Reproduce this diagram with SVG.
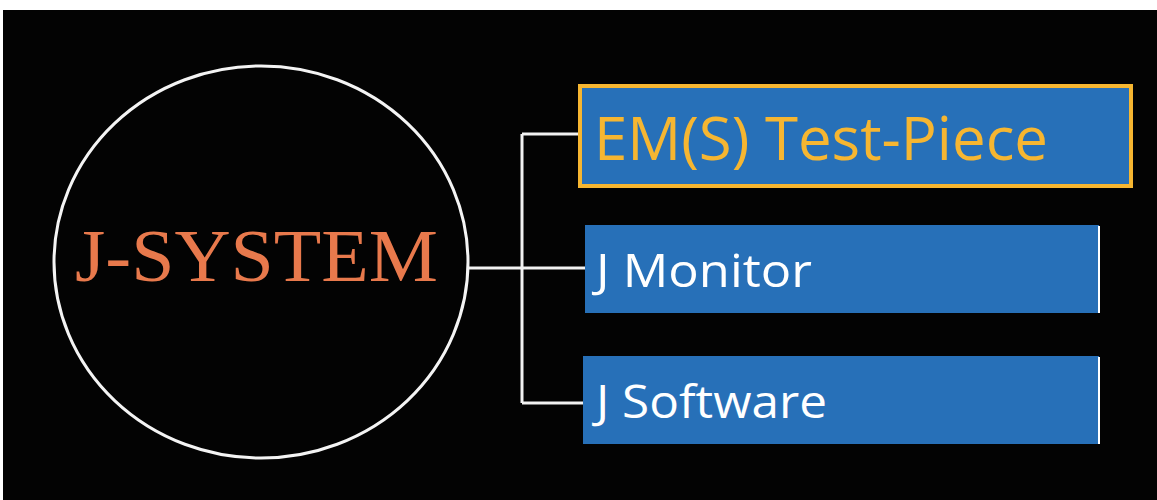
<svg xmlns="http://www.w3.org/2000/svg" width="1157" height="500" viewBox="0 0 1157 500">
  <style>
    .conn { stroke: #f2f2f2; stroke-width: 3; fill: none; }
    .box { fill: #2770b8; }
    .lbl { font-family: "Open Sans", "Liberation Sans", sans-serif; fill: #ffffff; }
  </style>
  <rect x="0" y="0" width="1157" height="500" fill="#ffffff"/>
  <rect x="3" y="10" width="1154" height="490" fill="#030303"/>
  <g id="connectors">
    <path class="conn" d="M468 268 H586"/>
    <path class="conn" d="M522 134 V403"/>
    <path class="conn" d="M522 134 H580"/>
    <path class="conn" d="M522 403 H585"/>
  </g>
  <g id="node-jsystem">
    <ellipse cx="261" cy="262" rx="207" ry="196" fill="#030303" stroke="#f4f4f4" stroke-width="3"/>
    <text x="75" y="281" font-family="Liberation Serif, serif" font-size="73" fill="#e8794c" textLength="363" lengthAdjust="spacingAndGlyphs">J-SYSTEM</text>
  </g>
  <g id="node-ems">
    <rect class="box" x="580" y="86" width="551" height="100" stroke="#f6b631" stroke-width="4"/>
    <text class="lbl" x="594" y="160" font-size="60" style="fill:#f6b631" textLength="454" lengthAdjust="spacingAndGlyphs">EM(S) Test-Piece</text>
  </g>
  <g id="node-monitor">
    <rect class="box" x="585" y="225" width="514" height="88"/>
    <line x1="1099" y1="226" x2="1099" y2="313" stroke="#ffffff" stroke-width="2"/>
    <text class="lbl" x="596" y="287" font-size="46" textLength="216" lengthAdjust="spacingAndGlyphs">J Monitor</text>
  </g>
  <g id="node-software">
    <rect class="box" x="583" y="356" width="516" height="88"/>
    <line x1="1099" y1="357" x2="1099" y2="444" stroke="#ffffff" stroke-width="2"/>
    <text class="lbl" x="596" y="418" font-size="46" textLength="231" lengthAdjust="spacingAndGlyphs">J Software</text>
  </g>
</svg>
